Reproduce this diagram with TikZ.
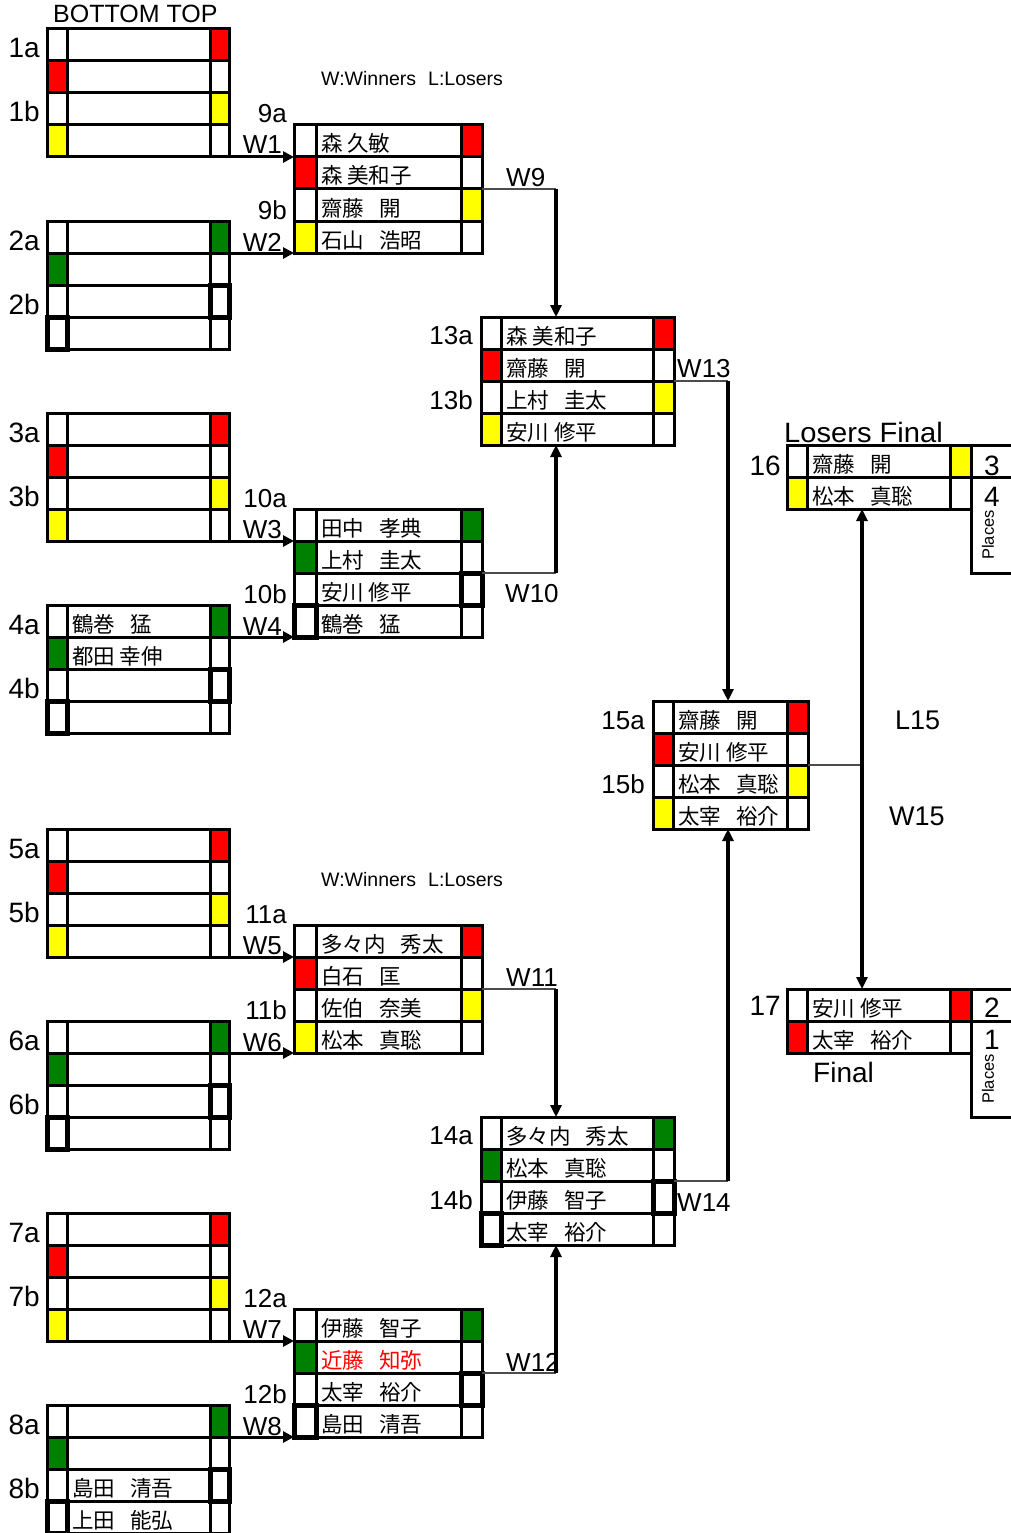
\documentclass[tikz,border=0pt]{standalone}
\usepackage{fontspec}
\setmainfont{Liberation Sans}
\newfontfamily\cjk{Noto Sans CJK JP}
\usetikzlibrary{arrows.meta,calc}
\definecolor{cred}{RGB}{255,0,0}
\definecolor{cyel}{RGB}{255,255,0}
\definecolor{cgrn}{RGB}{0,128,0}
\newcommand\zsp{\hspace{15pt}}
% fills: x0 xa xb x1 y0
\newcommand\fillRY[5]{%
 \fill[cred] (#3,#5) rectangle (#4,#5+32);
 \fill[cred] (#1,#5+32) rectangle (#2,#5+64);
 \fill[cyel] (#3,#5+64) rectangle (#4,#5+96);
 \fill[cyel] (#1,#5+96) rectangle (#2,#5+128);
}
\newcommand\fillGT[5]{%
 \fill[cgrn] (#3,#5) rectangle (#4,#5+32);
 \fill[cgrn] (#1,#5+32) rectangle (#2,#5+64);
}
\newcommand\thickRY[5]{}
\newcommand\thickGT[5]{%
 \draw[thickcell] (#3,#5+64) rectangle (#4,#5+96);
 \draw[thickcell] (#1,#5+96) rectangle (#2,#5+128);
}
% name x0 xa xb x1 y0 pattern
\newcommand\qbox[7]{%
 \csname fill#7\endcsname{#2}{#3}{#4}{#5}{#6}%
 \foreach \k in {32,64,96}{\draw[gridln] (#2,#6+\k) -- (#5,#6+\k);}%
 \draw[gridln] (#3,#6) -- (#3,#6+128);
 \draw[gridln] (#4,#6) -- (#4,#6+128);
 \node[bxnode, minimum width={(#5-#2)*1pt}, minimum height=128pt, anchor=north west] (#1) at (#2,#6) {};
 \csname thick#7\endcsname{#2}{#3}{#4}{#5}{#6}%
}
% name-node, x, rowtop, text
\newcommand\nrow[4]{\node[namelbl] (#1) at (#2+5,#3+27) {#4};}
\begin{document}
\begin{tikzpicture}[x=1pt,y=-1pt,
 gridln/.style={line width=3pt},
 bxnode/.style={draw, line width=3pt, inner sep=0pt, outer sep=0pt, rectangle},
 thickcell/.style={line width=5pt},
 namelbl/.style={anchor=base west, inner sep=0pt, font=\cjk\fontsize{21.5}{24}\selectfont},
 lbl/.style={inner sep=0pt, font=\fontsize{26}{30}\selectfont},
 biglbl/.style={inner sep=0pt, font=\fontsize{28}{32}\selectfont},
 note/.style={inner sep=0pt, anchor=base west, font=\fontsize{19.5}{22}\selectfont},
 feed/.style={line width=3pt, -{Triangle[length=11pt,width=11pt]}},
 riser/.style={line width=3.5pt, -{Triangle[length=12pt,width=11pt]}},
 link/.style={line width=1.3pt, draw=black!70},
 placetxt/.style={inner sep=0pt, rotate=90, font=\fontsize{16.5}{18}\selectfont},
]
\fill[white] (0,0) rectangle (1010,1533);
\useasboundingbox (0,0) rectangle (1010,1533);

% ---------- headers
\node[inner sep=0pt, anchor=base west, font=\fontsize{25}{28}\selectfont] (hdr) at (53,23) {BOTTOM TOP};
\node[note] (key1) at (321,86) {W:Winners\hspace{12pt}L:Losers};
\node[note] (key2) at (321,886) {W:Winners\hspace{12pt}L:Losers};

% ---------- round 1
\qbox{b1}{47}{67}{210}{229}{29}{RY}
\qbox{b2}{47}{67}{210}{229}{221}{GT}
\qbox{b3}{47}{67}{210}{229}{413}{RY}
\qbox{b4}{47}{67}{210}{229}{605}{GT}
\qbox{b5}{47}{67}{210}{229}{829}{RY}
\qbox{b6}{47}{67}{210}{229}{1021}{GT}
\qbox{b7}{47}{67}{210}{229}{1213}{RY}
\qbox{b8}{47}{67}{210}{229}{1405}{GT}

\node[biglbl, anchor=base east] (l1a) at (40,58) {1a};
\node[biglbl, anchor=base east] (l1b) at (40,122) {1b};
\node[biglbl, anchor=base east] (l2a) at (40,250) {2a};
\node[biglbl, anchor=base east] (l2b) at (40,314) {2b};
\node[biglbl, anchor=base east] (l3a) at (40,442) {3a};
\node[biglbl, anchor=base east] (l3b) at (40,506) {3b};
\node[biglbl, anchor=base east] (l4a) at (40,634) {4a};
\node[biglbl, anchor=base east] (l4b) at (40,698) {4b};
\node[biglbl, anchor=base east] (l5a) at (40,858) {5a};
\node[biglbl, anchor=base east] (l5b) at (40,922) {5b};
\node[biglbl, anchor=base east] (l6a) at (40,1050) {6a};
\node[biglbl, anchor=base east] (l6b) at (40,1114) {6b};
\node[biglbl, anchor=base east] (l7a) at (40,1242) {7a};
\node[biglbl, anchor=base east] (l7b) at (40,1306) {7b};
\node[biglbl, anchor=base east] (l8a) at (40,1434) {8a};
\node[biglbl, anchor=base east] (l8b) at (40,1498) {8b};

\nrow{n4a}{67}{605}{鶴巻\zsp 猛}
\nrow{n4b}{67}{637}{都田 幸伸}
\nrow{n8c}{67}{1469}{島田\zsp 清吾}
\nrow{n8d}{67}{1501}{上田\zsp 能弘}

% ---------- round 2
\qbox{b9}{294}{316}{461}{482}{125}{RY}
\qbox{b10}{294}{316}{461}{482}{509}{GT}
\qbox{b11}{294}{316}{461}{482}{925}{RY}
\qbox{b12}{294}{316}{461}{482}{1309}{GT}

\nrow{n9a}{316}{125}{森 久敏}
\nrow{n9b}{316}{157}{森 美和子}
\nrow{n9c}{316}{189}{齋藤\zsp 開}
\nrow{n9d}{316}{221}{石山\zsp 浩昭}
\nrow{n10a}{316}{509}{田中\zsp 孝典}
\nrow{n10b}{316}{541}{上村\zsp 圭太}
\nrow{n10c}{316}{573}{安川 修平}
\nrow{n10d}{316}{605}{鶴巻\zsp 猛}
\nrow{n11a}{316}{925}{多々内\zsp 秀太}
\nrow{n11b}{316}{957}{白石\zsp 匡}
\nrow{n11c}{316}{989}{佐伯\zsp 奈美}
\nrow{n11d}{316}{1021}{松本\zsp 真聡}
\nrow{n12a}{316}{1309}{伊藤\zsp 智子}
\nrow{n12b}{316}{1341}{\textcolor{cred}{近藤\zsp 知弥}}
\nrow{n12c}{316}{1373}{太宰\zsp 裕介}
\nrow{n12d}{316}{1405}{島田\zsp 清吾}

\node[lbl, anchor=base east] (l9a) at (287,123) {9a};
\node[lbl, anchor=base east] (l9b) at (287,219) {9b};
\node[lbl, anchor=base east] (l10a) at (287,507) {10a};
\node[lbl, anchor=base east] (l10b) at (287,603) {10b};
\node[lbl, anchor=base east] (l11a) at (287,923) {11a};
\node[lbl, anchor=base east] (l11b) at (287,1019) {11b};
\node[lbl, anchor=base east] (l12a) at (287,1307) {12a};
\node[lbl, anchor=base east] (l12b) at (287,1403) {12b};

\node[lbl, anchor=base east] (w1) at (282,154) {W1};
\node[lbl, anchor=base east] (w2) at (282,251) {W2};
\node[lbl, anchor=base east] (w3) at (282,538) {W3};
\node[lbl, anchor=base east] (w4) at (282,635) {W4};
\node[lbl, anchor=base east] (w5) at (282,954) {W5};
\node[lbl, anchor=base east] (w6) at (282,1051) {W6};
\node[lbl, anchor=base east] (w7) at (282,1338) {W7};
\node[lbl, anchor=base east] (w8) at (282,1435) {W8};

\draw[feed] (b1.south east) -- ($(b9.north west)+(0,32)$);
\draw[feed] ($(b2.north east)+(0,32)$) -- (b9.south west);
\draw[feed] (b3.south east) -- ($(b10.north west)+(0,32)$);
\draw[feed] ($(b4.north east)+(0,32)$) -- (b10.south west);
\draw[feed] (b5.south east) -- ($(b11.north west)+(0,32)$);
\draw[feed] ($(b6.north east)+(0,32)$) -- (b11.south west);
\draw[feed] (b7.south east) -- ($(b12.north west)+(0,32)$);
\draw[feed] ($(b8.north east)+(0,32)$) -- (b12.south west);

% ---------- round 3
\qbox{b13}{481}{501}{653}{674}{317}{RY}
\qbox{b14}{481}{501}{653}{674}{1117}{GT}

\nrow{n13a}{501}{317}{森 美和子}
\nrow{n13b}{501}{349}{齋藤\zsp 開}
\nrow{n13c}{501}{381}{上村\zsp 圭太}
\nrow{n13d}{501}{413}{安川 修平}
\nrow{n14a}{501}{1117}{多々内\zsp 秀太}
\nrow{n14b}{501}{1149}{松本\zsp 真聡}
\nrow{n14c}{501}{1181}{伊藤\zsp 智子}
\nrow{n14d}{501}{1213}{太宰\zsp 裕介}

\node[lbl, anchor=base east] (l13a) at (473,344) {13a};
\node[lbl, anchor=base east] (l13b) at (473,409) {13b};
\node[lbl, anchor=base east] (l14a) at (473,1144) {14a};
\node[lbl, anchor=base east] (l14b) at (473,1209) {14b};

\coordinate (c9) at (556,189);
\coordinate (c10) at (556,573);
\coordinate (c11) at (556,989);
\coordinate (c12) at (556,1373);
\draw[link] ($(b9.north east)+(0,64)$) -- (c9);
\draw[link] ($(b10.north east)+(0,64)$) -- (c10);
\draw[link] ($(b11.north east)+(0,64)$) -- (c11);
\draw[link] ($(b12.north east)+(0,64)$) -- (c12);
\draw[riser] (c9) -- (b13.north -| c9);
\draw[riser] (c10) -- (b13.south -| c10);
\draw[riser] (c11) -- (b14.north -| c11);
\draw[riser] (c12) -- (b14.south -| c12);

\node[lbl, anchor=base west] (w9) at (506,186) {W9};
\node[lbl, anchor=base west] (w10) at (505,602) {W10};
\node[lbl, anchor=base west] (w11) at (506,986) {W11};
\node[lbl, anchor=base west] (w12) at (506,1371) {W12};

% ---------- round 4
\qbox{b15}{653}{673}{787}{808}{701}{RY}
\nrow{n15a}{673}{701}{齋藤\zsp 開}
\nrow{n15b}{673}{733}{安川 修平}
\nrow{n15c}{673}{765}{松本\zsp 真聡}
\nrow{n15d}{673}{797}{太宰\zsp 裕介}
\node[lbl, anchor=base east] (l15a) at (645,729) {15a};
\node[lbl, anchor=base east] (l15b) at (645,793) {15b};

\coordinate (c13) at (728,381);
\coordinate (c14) at (728,1181);
\draw[link] ($(b13.north east)+(0,64)$) -- (c13);
\draw[link] ($(b14.north east)+(0,64)$) -- (c14);
\draw[riser] (c13) -- (b15.north -| c13);
\draw[riser] (c14) -- (b15.south -| c14);
\node[lbl, anchor=base west] (w13) at (677,377) {W13};
\node[lbl, anchor=base west] (w14) at (677,1211) {W14};

% ---------- losers final (16)
\fill[cyel] (950,445) rectangle (971,477);
\fill[cyel] (787,477) rectangle (807,509);
\draw[gridln] (787,477) -- (1014,477);
\draw[gridln] (807,445) -- (807,509);
\draw[gridln] (950,445) -- (950,509);
\node[bxnode, minimum width=184pt, minimum height=64pt, anchor=north west] (b16) at (787,445) {};
\node[bxnode, minimum width=43pt, minimum height=128pt, anchor=north west] (p16) at (971,445) {};
\nrow{n16a}{807}{445}{齋藤\zsp 開}
\nrow{n16b}{807}{477}{松本\zsp 真聡}
\node[biglbl, anchor=base east] (l16) at (781,475) {16};
\node[biglbl, anchor=base] (pl3) at (992,475) {3};
\node[biglbl, anchor=base] (pl4) at (992,506) {4};
\node[placetxt] (plc16) at (988,535) {Places};
\node[inner sep=0pt, anchor=base west, xscale=1.04, font=\fontsize{28}{32}\selectfont] (lf) at (784,442) {Losers Final};

% ---------- final (17)
\fill[cred] (950,989) rectangle (971,1021);
\fill[cred] (787,1021) rectangle (807,1053);
\draw[gridln] (787,1021) -- (1014,1021);
\draw[gridln] (807,989) -- (807,1053);
\draw[gridln] (950,989) -- (950,1053);
\node[bxnode, minimum width=184pt, minimum height=64pt, anchor=north west] (b17) at (787,989) {};
\node[bxnode, minimum width=43pt, minimum height=128pt, anchor=north west] (p17) at (971,989) {};
\nrow{n17a}{807}{989}{安川 修平}
\nrow{n17b}{807}{1021}{太宰\zsp 裕介}
\node[biglbl, anchor=base east] (l17) at (781,1015) {17};
\node[biglbl, anchor=base] (pl2) at (992,1017) {2};
\node[biglbl, anchor=base] (pl1) at (992,1049) {1};
\node[placetxt] (plc17) at (988,1079) {Places};
\node[inner sep=0pt, anchor=base west, font=\fontsize{28}{32}\selectfont] (fin) at (813,1082) {Final};

% ---------- round 5 links
\coordinate (c15) at (862,765);
\draw[link] ($(b15.north east)+(0,64)$) -- (c15);
\draw[riser] (c15) -- (b16.south -| c15);
\draw[riser] (c15) -- (b17.north -| c15);
\node[lbl, anchor=base west, font=\fontsize{27}{30}\selectfont] (l15) at (895,729) {L15};
\node[lbl, anchor=base west, font=\fontsize{27}{30}\selectfont] (w15) at (889,825) {W15};
\end{tikzpicture}
\end{document}
